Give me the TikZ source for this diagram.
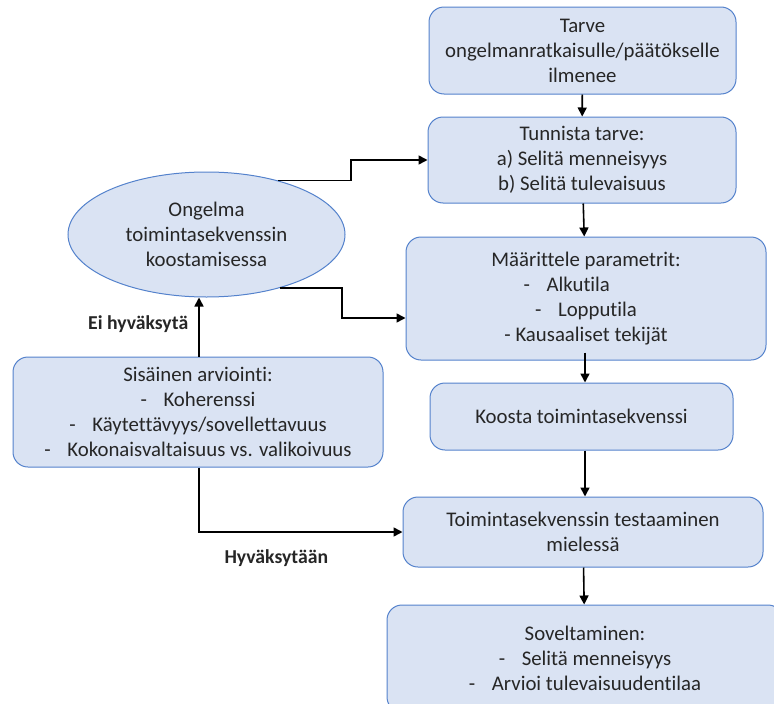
\documentclass[tikz,border=0pt]{standalone}
\usepackage{fontspec}
\setmainfont{Carlito}[Ligatures=NoCommon]
\usetikzlibrary{arrows.meta,shapes.geometric}
\definecolor{boxfill}{HTML}{DAE3F3}
\definecolor{boxline}{HTML}{5482CC}
\definecolor{textgray}{HTML}{262626}
\begin{document}
\begin{tikzpicture}[
	x=1pt, y=-1pt,
	font=\fontsize{20.8}{25}\selectfont,
	box/.style={draw=boxline, fill=boxfill, line width=1pt, rounded corners=15pt, align=center, inner sep=0pt, text=textgray},
	oval/.style={ellipse, draw=boxline, fill=boxfill, line width=1pt, align=center, inner sep=0pt, text=textgray},
	arr/.style={-{Triangle[length=9pt,width=9pt]}, line width=1.6pt},
	lbl/.style={font=\fontsize{19.7}{22}\selectfont\bfseries, inner sep=0pt, text=textgray},
	]
\path[use as bounding box, clip] (0,0) rectangle (774,704);
\node [box, minimum width=307pt, minimum height=87pt] (tarve) at (582.5,50.5)
	{Tarve\\ongelmanratkaisulle/päätökselle\\ilmenee};
\node [box, minimum width=308pt, minimum height=86pt] (tunnista) at (582,160)
	{Tunnista tarve:\\a) Selitä menneisyys\\b) Selitä tulevaisuus};
\node [box, minimum width=360pt, minimum height=123pt] (maarittele) at (586,298.5)
	{Määrittele parametrit:\\-\hspace{0.8em}Alkutila\hspace{1.85em}\mbox{}\\-\hspace{0.8em}Lopputila\\- Kausaaliset tekijät};
\node [box, minimum width=303pt, minimum height=67pt] (koosta) at (581.5,416.5)
	{Koosta toimintasekvenssi};
\node [box, minimum width=360pt, minimum height=70pt] (testaus) at (583,532)
	{Toimintasekvenssin testaaminen\\mielessä};
\node [box, minimum width=396pt, minimum height=107pt] (soveltaminen) at (585,658.5)
	{Soveltaminen:\\-\hspace{0.8em}Selitä menneisyys\\-\hspace{0.8em}Arvioi tulevaisuudentilaa};
\node [oval, minimum width=277pt, minimum height=125pt] (ongelma) at (206.5,234.5)
	{Ongelma\\toimintasekvenssin\\koostamisessa};
\node [box, minimum width=370pt, minimum height=110pt] (arviointi) at (198,412)
	{Sisäinen arviointi:\\-\hspace{0.8em}Koherenssi\\-\hspace{0.8em}Käytettävyys/sovellettavuus\\-\hspace{0.8em}Kokonaisvaltaisuus vs. valikoivuus};
\draw [arr] (tarve) -- (tunnista);
\draw [arr] (tunnista) -- (maarittele);
\draw [arr] ([yshift=8pt,xshift=3.5pt]koosta.north |- maarittele.south) -- ([xshift=3.5pt]koosta.north);
\draw [arr] ([xshift=3.5pt]koosta.south) -- ([xshift=3.5pt]koosta.south |- testaus.north);
\draw [arr] (testaus) -- (soveltaminen);
\draw [arr] (ongelma.37) -- ++(73,0) |- (tunnista.west);
\draw [arr] (ongelma.-36) -- ++(62,0) |- ([yshift=-19.5pt]maarittele.west);
\draw [arr] ([xshift=1pt]arviointi.north) -- ([xshift=1pt]arviointi.north |- ongelma.south)
	node [lbl, pos=0.55, left=10pt] (eilabel) {Ei hyväksytä};
\draw [arr] ([xshift=1pt]arviointi.south) |- (testaus.west)
	node [lbl, pos=0.69, below=17pt] (hyvlabel) {Hyväksytään};
\end{tikzpicture}
\end{document}
